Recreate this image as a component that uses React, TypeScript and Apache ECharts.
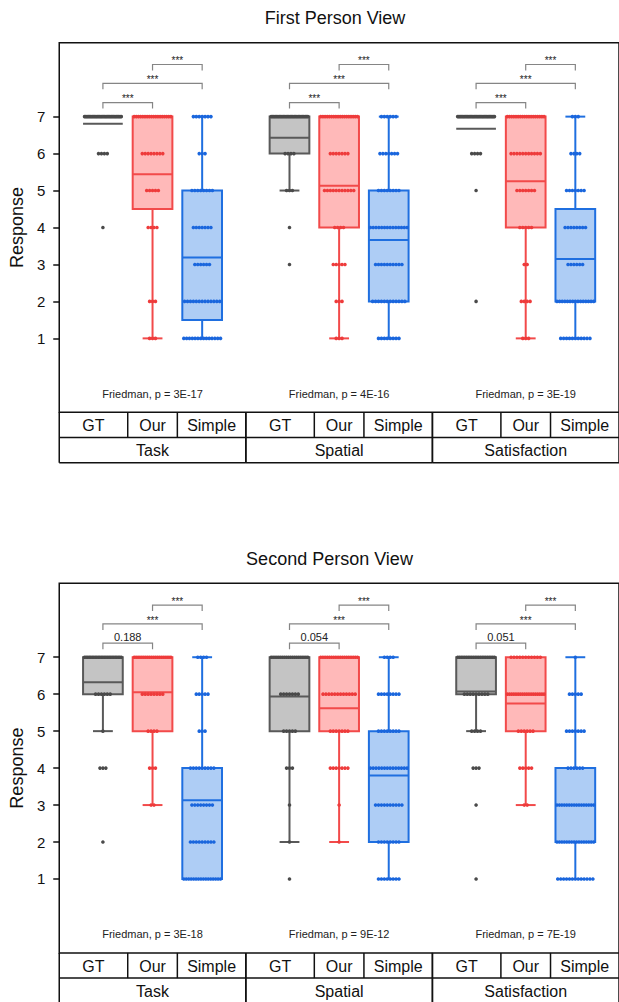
import React, { useEffect, useRef } from "react";
import * as echarts from "echarts";

// ---------- data ----------
const VIEWS = ["First Person View", "Second Person View"];
const GROUPS = ["Task", "Spatial", "Satisfaction"];
const CONDITIONS = ["GT", "Our", "Simple"];
const LEVELS = [1, 2, 3, 4, 5, 6, 7];
const Y_TICKS = [1, 2, 3, 4, 5, 6, 7];
const Y_MINOR_TICKS = [1.5, 2.5, 3.5, 4.5, 5.5, 6.5];

// number of responses at each level 1..7, per condition [GT, Our, Simple]
const FIRST_TASK_COUNTS = [[0, 0, 0, 1, 0, 4, 30], [3, 3, 0, 4, 5, 8, 18], [14, 13, 6, 7, 8, 3, 7]];
const FIRST_SPATIAL_COUNTS = [[0, 0, 1, 1, 3, 4, 28], [3, 3, 5, 4, 11, 7, 18], [8, 12, 10, 14, 8, 7, 6]];
const FIRST_SATISFACTION_COUNTS = [[0, 1, 0, 0, 1, 4, 30], [3, 4, 2, 5, 7, 11, 18], [11, 15, 6, 8, 7, 4, 3]];
const SECOND_TASK_COUNTS = [[0, 1, 0, 3, 1, 6, 25], [0, 0, 2, 3, 4, 8, 20], [16, 9, 8, 9, 3, 5, 4]];
const SECOND_SPATIAL_COUNTS = [[1, 1, 1, 3, 5, 7, 20], [0, 1, 1, 7, 7, 12, 18], [8, 8, 10, 14, 8, 8, 4]];
const SECOND_SATISFACTION_COUNTS = [[1, 0, 1, 3, 4, 9, 22], [0, 0, 2, 5, 6, 18, 11], [13, 16, 16, 6, 7, 5, 1]];

// box statistics [lower whisker, Q1, Q3, upper whisker]
const FIRST_TASK_BOX = [[7, 7, 7, 7], [1, 4.5, 7, 7], [1, 1.5, 5, 7]];
const FIRST_SPATIAL_BOX = [[5, 6, 7, 7], [1, 4, 7, 7], [1, 2, 5, 7]];
const FIRST_SATISFACTION_BOX = [[7, 7, 7, 7], [1, 4, 7, 7], [1, 2, 4.5, 7]];
const SECOND_TASK_BOX = [[5, 6, 7, 7], [3, 5, 7, 7], [1, 1, 4, 7]];
const SECOND_SPATIAL_BOX = [[2, 5, 7, 7], [2, 5, 7, 7], [1, 2, 5, 7]];
const SECOND_SATISFACTION_BOX = [[5, 6, 7, 7], [3, 5, 7, 7], [1, 2, 4, 7]];

// means (the line drawn inside each box)
const FIRST_MEANS = [[6.81, 5.44, 3.19], [6.43, 5.13, 3.66], [6.67, 5.25, 3.15]];
const SECOND_MEANS = [[6.32, 6.05, 3.13], [5.94, 5.62, 3.8], [6.07, 5.75, 3.0]];

const FIRST_FRIEDMAN = ["3E-17", "4E-16", "3E-19"];
const SECOND_FRIEDMAN = ["3E-18", "9E-12", "7E-19"];

// pairwise comparisons: GT-Our, GT-Simple, Our-Simple
const PAIRS = [[0, 1], [0, 2], [1, 2]];
const FIRST_PAIR_LABELS = [["***", "***", "***"], ["***", "***", "***"], ["***", "***", "***"]];
const SECOND_PAIR_LABELS = [["0.188", "***", "***"], ["0.054", "***", "***"], ["0.051", "***", "***"]];

// ---------- layout / style ----------
const FONT = "'Liberation Sans', Arial, sans-serif";
const GROUP_SPAN = 3.76;
const FIRST_OFFSET = 0.88;
const CELL_EDGES = [0, 1.38, 2.38, 3.76];
const X_MAX = 11.28;
const BOX_W = 0.8;
const DOT_STEP = 0.059;
const DOT_MAX_SPREAD = 0.74;
const PAIR_LEVELS = [7.38, 7.9, 8.41];
const ROW_H = 25.2;
const GRID_TOPS = [42.7, 583.3];
const GRID_H = 369.6;
const TITLE_POS = [[335, 17.7], [329.5, 559.4]];
const COND_FILL = ["#c4c4c4", "#ffb9b9", "#aecdf5"];
const COND_LINE = ["#595959", "#f24a4a", "#1f6fe0"];
const COND_DOT = ["#4a4a4a", "#ee3b3b", "#1a66dd"];
const INK = "#111";

const VIEW_DATA = [
  {
    counts: [FIRST_TASK_COUNTS, FIRST_SPATIAL_COUNTS, FIRST_SATISFACTION_COUNTS],
    box: [FIRST_TASK_BOX, FIRST_SPATIAL_BOX, FIRST_SATISFACTION_BOX],
    means: FIRST_MEANS,
    friedman: FIRST_FRIEDMAN,
    pairs: FIRST_PAIR_LABELS,
  },
  {
    counts: [SECOND_TASK_COUNTS, SECOND_SPATIAL_COUNTS, SECOND_SATISFACTION_COUNTS],
    box: [SECOND_TASK_BOX, SECOND_SPATIAL_BOX, SECOND_SATISFACTION_BOX],
    means: SECOND_MEANS,
    friedman: SECOND_FRIEDMAN,
    pairs: SECOND_PAIR_LABELS,
  },
];

const xPos = (g: number, c: number) => g * GROUP_SPAN + FIRST_OFFSET + c;

function textStyle(text: string, size: number, color = INK) {
  return {
    text,
    fill: color,
    fontSize: size,
    fontFamily: FONT,
    align: "center",
    verticalAlign: "middle",
    textAlign: "center",
    textVerticalAlign: "middle",
  };
}

function dotsFor(counts: number[], center: number) {
  const pts: number[][] = [];
  counts.forEach((n, li) => {
    if (!n) return;
    const spread = Math.min((n - 1) * DOT_STEP, DOT_MAX_SPREAD);
    const step = n > 1 ? spread / (n - 1) : 0;
    for (let i = 0; i < n; i++) pts.push([center - spread / 2 + i * step, LEVELS[li]]);
  });
  return pts;
}

function buildOption() {
  const grid = GRID_TOPS.map((top) => ({
    left: 53,
    right: -7,
    top,
    height: GRID_H,
    show: true,
    borderColor: INK,
    borderWidth: 1.5,
    backgroundColor: "transparent",
  }));
  const xAxis = VIEWS.map((_, i) => ({ type: "value", gridIndex: i, min: 0, max: X_MAX, show: false }));
  const yAxis: any[] = [];
  VIEWS.forEach((_, i) => {
    yAxis.push({
      type: "value",
      gridIndex: i,
      min: -1,
      max: 9,
      interval: 1,
      name: "Response",
      nameLocation: "middle",
      nameGap: 26,
      nameTextStyle: { fontSize: 18, color: INK, fontFamily: FONT },
      axisLine: { show: false },
      axisTick: { show: true, customValues: Y_TICKS, length: 6, lineStyle: { color: INK, width: 1.5 } },
      axisLabel: { customValues: Y_TICKS, fontSize: 15, color: INK, margin: 14, fontFamily: FONT },
      splitLine: { show: false },
    });
    yAxis.push({
      type: "value",
      gridIndex: i,
      min: -1,
      max: 9,
      interval: 1,
      axisLine: { show: false },
      axisTick: { show: true, customValues: Y_MINOR_TICKS, length: 3.5, lineStyle: { color: INK, width: 1.5 } },
      axisLabel: { show: false },
      splitLine: { show: false },
    });
  });

  const series: any[] = [];
  VIEW_DATA.forEach((vd, v) => {
    const axes = { xAxisIndex: v, yAxisIndex: v * 2 };
    // boxes
    const boxData: number[][] = [];
    GROUPS.forEach((_, g) =>
      CONDITIONS.forEach((_, c) => {
        const b = vd.box[g][c];
        boxData.push([xPos(g, c), b[0], b[1], b[2], b[3], vd.means[g][c], c]);
      })
    );
    series.push({
      type: "custom",
      ...axes,
      z: 2,
      clip: false,
      silent: true,
      encode: { x: 0, y: [1, 2, 3, 4, 5] },
      data: boxData,
      renderItem: (params: any, api: any) => {
        const x = api.value(0);
        const c = api.value(6);
        const bw = api.size([BOX_W, 0])[0];
        const pLow = api.coord([x, api.value(1)]);
        const pQ1 = api.coord([x, api.value(2)]);
        const pQ3 = api.coord([x, api.value(3)]);
        const pHigh = api.coord([x, api.value(4)]);
        const pMean = api.coord([x, api.value(5)]);
        const cx = pQ1[0];
        const ls = { stroke: COND_LINE[c], lineWidth: 2 };
        return {
          type: "group",
          children: [
            { type: "line", shape: { x1: cx, y1: pHigh[1], x2: cx, y2: pQ3[1] }, style: ls },
            { type: "line", shape: { x1: cx, y1: pQ1[1], x2: cx, y2: pLow[1] }, style: ls },
            { type: "line", shape: { x1: cx - bw / 4, y1: pHigh[1], x2: cx + bw / 4, y2: pHigh[1] }, style: ls },
            { type: "line", shape: { x1: cx - bw / 4, y1: pLow[1], x2: cx + bw / 4, y2: pLow[1] }, style: ls },
            {
              type: "rect",
              shape: { x: cx - bw / 2, y: pQ3[1], width: bw, height: pQ1[1] - pQ3[1] },
              style: { fill: COND_FILL[c], stroke: COND_LINE[c], lineWidth: 2 },
            },
            { type: "line", shape: { x1: cx - bw / 2, y1: pMean[1], x2: cx + bw / 2, y2: pMean[1] }, style: ls },
          ],
        };
      },
    });
    // dots
    CONDITIONS.forEach((_, c) => {
      let pts: number[][] = [];
      GROUPS.forEach((_, g) => {
        pts = pts.concat(dotsFor(vd.counts[g][c], xPos(g, c)));
      });
      series.push({
        type: "scatter",
        ...axes,
        z: 3,
        silent: true,
        symbol: "circle",
        symbolSize: 3.6,
        itemStyle: { color: COND_DOT[c], opacity: 1 },
        data: pts,
      });
    });
    // significance brackets
    const brData: number[][] = [];
    const brLabels: string[] = [];
    GROUPS.forEach((_, g) =>
      PAIRS.forEach((p, k) => {
        brData.push([xPos(g, p[0]), xPos(g, p[1]), PAIR_LEVELS[k]]);
        brLabels.push(vd.pairs[g][k]);
      })
    );
    series.push({
      type: "custom",
      ...axes,
      z: 4,
      clip: false,
      silent: true,
      encode: { x: [0, 1], y: 2 },
      data: brData,
      renderItem: (params: any, api: any) => {
        const p1 = api.coord([api.value(0), api.value(2)]);
        const p2 = api.coord([api.value(1), api.value(2)]);
        const label = brLabels[params.dataIndex];
        const stars = label.indexOf("*") >= 0;
        return {
          type: "group",
          children: [
            {
              type: "polyline",
              shape: { points: [[p1[0], p1[1] + 6], [p1[0], p1[1]], [p2[0], p2[1]], [p2[0], p2[1] + 6]] },
              style: { stroke: "#858585", lineWidth: 1.2, fill: null },
            },
            {
              type: "text",
              x: (p1[0] + p2[0]) / 2,
              y: p1[1] - (stars ? 3.6 : 6.6),
              style: textStyle(label, stars ? 10 : 11, "#222"),
            },
          ],
        };
      },
    });
    // Friedman labels
    series.push({
      type: "custom",
      ...axes,
      z: 4,
      clip: false,
      silent: true,
      encode: { x: 0, y: 1 },
      data: GROUPS.map((_, g) => [g * GROUP_SPAN + GROUP_SPAN / 2, -0.5]),
      renderItem: (params: any, api: any) => {
        const p = api.coord([api.value(0), api.value(1)]);
        return {
          type: "text",
          x: p[0],
          y: p[1],
          style: textStyle("Friedman, p = " + vd.friedman[params.dataIndex], 11, "#222"),
        };
      },
    });
    // category table
    series.push({
      type: "custom",
      ...axes,
      z: 5,
      clip: false,
      silent: true,
      encode: { x: 0, y: 1 },
      data: GROUPS.map((_, g) => [g * GROUP_SPAN, -1]),
      renderItem: (params: any, api: any) => {
        const g = params.dataIndex;
        const start = g * GROUP_SPAN;
        const p0 = api.coord([start, -1]);
        const p1 = api.coord([start + GROUP_SPAN, -1]);
        const y0 = p0[1];
        const y1 = y0 + ROW_H;
        const y2 = y0 + 2 * ROW_H;
        const ls = { stroke: INK, lineWidth: 1.5 };
        const children: any[] = [
          { type: "line", shape: { x1: p0[0], y1: y0, x2: p0[0], y2: y2 }, style: ls },
          { type: "line", shape: { x1: p1[0], y1: y0, x2: p1[0], y2: y2 }, style: ls },
          { type: "line", shape: { x1: p0[0], y1: y1, x2: p1[0], y2: y1 }, style: ls },
          { type: "line", shape: { x1: p0[0], y1: y2, x2: p1[0], y2: y2 }, style: ls },
        ];
        [1, 2].forEach((e) => {
          const xe = api.coord([start + CELL_EDGES[e], -1])[0];
          children.push({ type: "line", shape: { x1: xe, y1: y0, x2: xe, y2: y1 }, style: ls });
        });
        CONDITIONS.forEach((name, c) => {
          const xa = api.coord([start + CELL_EDGES[c], -1])[0];
          const xb = api.coord([start + CELL_EDGES[c + 1], -1])[0];
          children.push({ type: "text", x: (xa + xb) / 2, y: (y0 + y1) / 2 + 0.5, style: textStyle(name, 16) });
        });
        children.push({
          type: "text",
          x: (p0[0] + p1[0]) / 2,
          y: (y1 + y2) / 2 + 0.5,
          style: textStyle(GROUPS[g], 16),
        });
        return { type: "group", children };
      },
    });
  });

  const graphic = VIEWS.map((t, i) => ({
    type: "text",
    x: TITLE_POS[i][0],
    y: TITLE_POS[i][1],
    style: textStyle(t, 18),
  }));

  return {
    animation: false,
    backgroundColor: "#ffffff",
    grid,
    xAxis,
    yAxis,
    series,
    graphic,
  };
}

export default function App() {
  const ref = useRef<HTMLDivElement>(null);
  useEffect(() => {
    if (!ref.current) return;
    const chart = echarts.init(ref.current, undefined, { renderer: "svg" });
    chart.setOption(buildOption() as any);
    return () => chart.dispose();
  }, []);
  return (
    <div
      ref={ref}
      style={{ position: "absolute", left: 0, top: 0, width: 619, height: 1002, background: "#fff" }}
    />
  );
}
